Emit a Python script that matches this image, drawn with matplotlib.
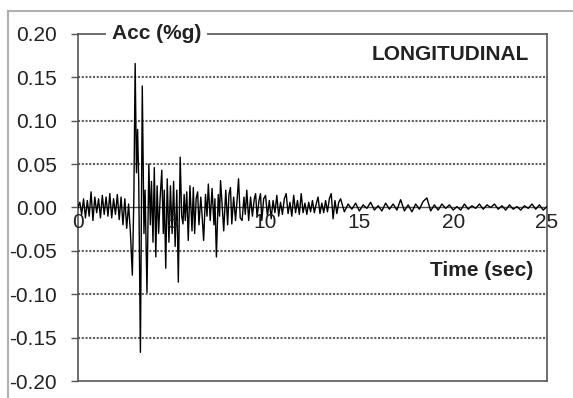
"""Longitudinal acceleration record (Acc in %g vs time)."""

import matplotlib

matplotlib.use("Agg")
import matplotlib.pyplot as plt  # noqa: E402
import numpy as np  # noqa: E402
from matplotlib.lines import Line2D  # noqa: E402
from matplotlib.ticker import FormatStrFormatter  # noqa: E402

plt.rcParams["font.family"] = ["Liberation Sans", "DejaVu Sans"]
plt.rcParams["axes.unicode_minus"] = False

# pre-event noise, 0.0 - 2.6 s every 0.1 s
acc_pre = [0.000, 0.006, -0.008, 0.010, -0.012, 0.008, -0.010, 0.018, -0.015, 0.012,
           -0.006, 0.010, -0.012, 0.014, -0.008, 0.012, -0.010, 0.016, -0.012, 0.010,
           -0.008, 0.015, -0.014, 0.012, -0.020, 0.010, -0.024]

# strong motion, read as peaks/troughs (time, value)
t_strong = [2.70, 2.80, 2.90, 2.98, 3.05, 3.12, 3.18, 3.24, 3.33, 3.43,
            3.52, 3.58, 3.68, 3.78, 3.86, 3.92, 4.00, 4.07, 4.15, 4.22,
            4.30, 4.38, 4.47, 4.55, 4.60, 4.68, 4.76, 4.85, 4.93, 5.02,
            5.10, 5.18, 5.27, 5.35, 5.45, 5.53, 5.60, 5.66, 5.72, 5.80,
            5.88, 5.97, 6.08, 6.15, 6.22, 6.30, 6.38, 6.45, 6.55, 6.62,
            6.70, 6.80, 6.88, 6.95, 7.05, 7.15, 7.25, 7.30, 7.38, 7.48,
            7.55, 7.60, 7.68, 7.77, 7.88, 7.98, 8.05, 8.13, 8.20, 8.30,
            8.40, 8.48, 8.56, 8.65, 8.75, 8.85, 8.92, 9.00, 9.10, 9.20,
            9.30, 9.40, 9.47, 9.55, 9.65, 9.73, 9.80, 9.90, 10.00]
acc_strong = [0.004, -0.030, -0.078, 0.010, 0.166, 0.040, 0.090, 0.030, -0.167, 0.140,
              -0.030, 0.020, -0.098, 0.050, -0.020, 0.030, -0.040, 0.046, -0.057, 0.025,
              -0.030, 0.010, 0.043, -0.030, 0.020, -0.070, 0.033, -0.040, 0.025, -0.030,
              0.030, -0.045, 0.020, -0.086, 0.058, -0.010, -0.019, 0.015, -0.015, 0.018,
              -0.038, 0.025, -0.027, 0.023, -0.030, 0.010, 0.018, -0.020, 0.012, -0.010,
              -0.038, 0.015, -0.010, 0.027, -0.015, 0.022, -0.020, 0.010, -0.057, 0.015,
              -0.010, 0.031, 0.005, -0.027, 0.020, -0.020, 0.015, 0.023, -0.019, 0.012,
              -0.015, 0.008, 0.033, -0.012, -0.015, 0.012, -0.008, 0.020, -0.015, 0.012,
              -0.010, 0.010, 0.016, -0.011, 0.008, 0.016, -0.015, 0.010, 0.014]

# decaying coda, 10.1 - 13.9 s every 0.1 s
acc_coda = [-0.010, 0.008, -0.013, 0.008, -0.006, 0.014, -0.010, 0.006, -0.008, 0.010,
            0.016, -0.007, 0.006, -0.010, 0.014, -0.006, 0.008, -0.008, 0.016, -0.006,
            0.005, -0.008, 0.006, -0.005, 0.008, -0.006, 0.004, 0.012, -0.007, 0.005,
            -0.006, 0.008, -0.005, 0.010, 0.016, -0.013, 0.008, -0.007, 0.006]

# tail, 14.0 - 25.0 s every 0.2 s
acc_tail = [0.010, -0.005, 0.004, -0.002, 0.005, -0.004, 0.003, -0.001, 0.006, -0.003,
            0.002, -0.004, 0.005, -0.002, 0.004, -0.003, 0.009, -0.004, 0.003, -0.005,
            0.004, -0.002, 0.007, 0.011, -0.004, 0.003, -0.003, 0.004, -0.001, 0.003,
            -0.003, 0.001, -0.003, 0.004, -0.002, 0.002, -0.001, 0.004, -0.002, 0.003,
            0.000, 0.004, -0.002, 0.002, -0.003, 0.003, -0.002, 0.001, -0.003, 0.002,
            -0.001, 0.004, -0.002, 0.003, -0.003, 0.001]

y_ticks = [0.20, 0.15, 0.10, 0.05, 0.00, -0.05, -0.10, -0.15, -0.20]
x_ticks = [0, 5, 10, 15, 20, 25]

t = np.concatenate([
    0.1 * np.arange(len(acc_pre)),
    np.array(t_strong),
    10.1 + 0.1 * np.arange(len(acc_coda)),
    14.0 + 0.2 * np.arange(len(acc_tail)),
])
acc = np.concatenate([acc_pre, acc_strong, acc_coda, acc_tail])

fig = plt.figure(figsize=(5.73, 3.98), dpi=100)
ax = fig.add_axes([0.136, 0.0427, 0.8186, 0.872])

# outer chart-area frame (cropped on the right/bottom)
fig.add_artist(Line2D([8 / 573, 1.0], [1 - 11 / 398] * 2, transform=fig.transFigure,
                      color="#b0b0b0", lw=1.5))
fig.add_artist(Line2D([8 / 573] * 2, [0.0, 1 - 11 / 398], transform=fig.transFigure,
                      color="#b0b0b0", lw=1.5))

for g in [0.15, 0.10, 0.05, -0.05, -0.10, -0.15]:
    ax.axhline(g, color="#606060", lw=1.5, ls=(0, (1, 0.8)), zorder=1)
ax.axhline(0.0, color="#555555", lw=1.0, zorder=1)

ax.plot(t, acc, color="black", lw=1.0, zorder=3)

ax.set_xlim(0, 25)
ax.set_ylim(-0.20, 0.20)
ax.set_yticks(y_ticks)
ax.yaxis.set_major_formatter(FormatStrFormatter("%.2f"))
ax.tick_params(axis="y", direction="out", length=5, width=1.0, pad=10,
               labelsize=15, colors="#555555", labelcolor="#222222")
ax.set_xticks([])
for s in ax.spines.values():
    s.set_color("#555555")
    s.set_linewidth(1.2)

for x in x_ticks:
    ax.text(x, -0.006, str(x), ha="center", va="top", fontsize=15, color="#222222",
            zorder=4)

ax.text(4.2, 0.20, "Acc (%g)", ha="center", va="center", fontsize=15,
        fontweight="bold", color="#222222", zorder=5,
        bbox=dict(facecolor="white", edgecolor="none", pad=4))
ax.text(24.05, 0.176, "LONGITUDINAL", ha="right", va="center", fontsize=15,
        fontweight="bold", color="#222222")
ax.text(24.25, -0.073, "Time (sec)", ha="right", va="center", fontsize=15,
        fontweight="bold", color="#222222")

fig.savefig("out.png", dpi=100)
